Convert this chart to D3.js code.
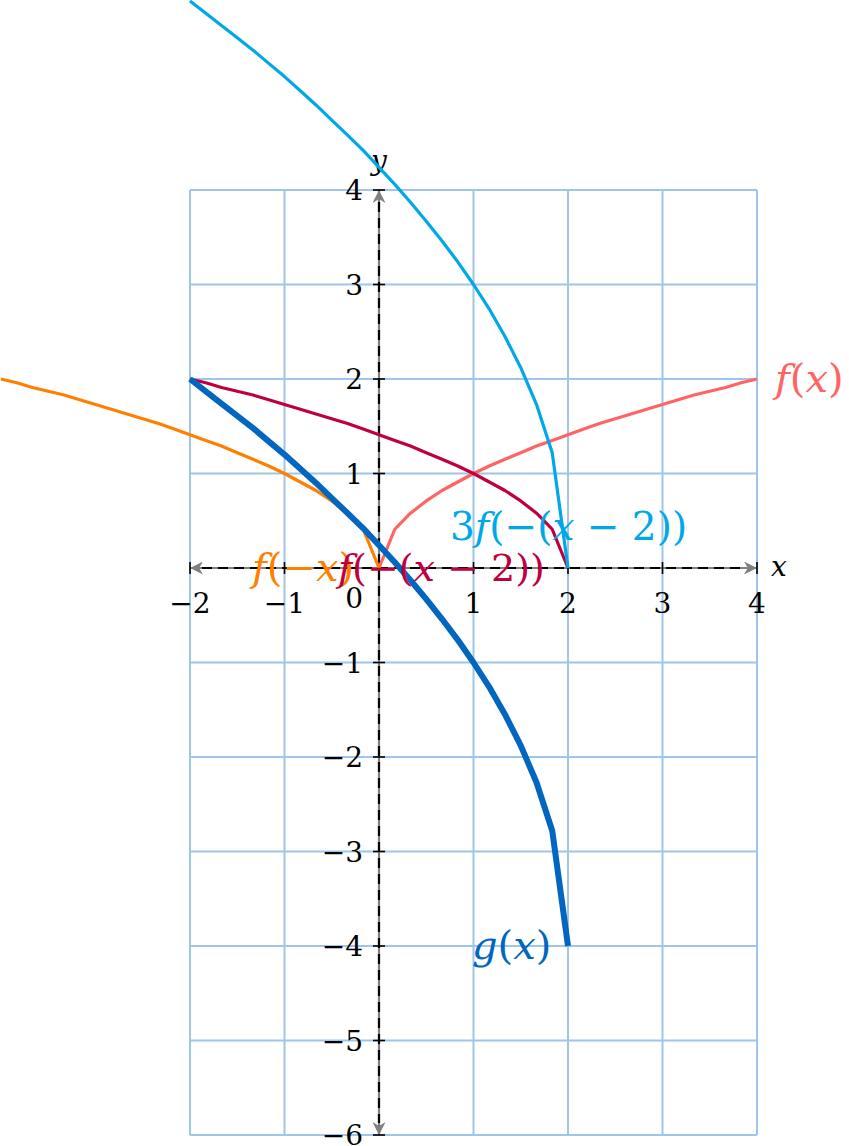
<!DOCTYPE html>
<html>
<head>
<meta charset="utf-8">
<script src="https://cdn.jsdelivr.net/npm/d3@7"></script>
<style>
  body { margin: 0; background: white; }
  svg text { font-family: "DejaVu Serif", "Liberation Serif", serif; }
</style>
</head>
<body>
<div id="chart"></div>
<script>
// sample positions (25 samples as in the plot)
const xsMid = [-2, -1.833, -1.667, -1.5, -1.333, -1.167, -1, -0.833, -0.667, -0.5, -0.333, -0.167,
  0, 0.167, 0.333, 0.5, 0.667, 0.833, 1, 1.167, 1.333, 1.5, 1.667, 1.833, 2];
const xsRight = [0, 0.167, 0.333, 0.5, 0.667, 0.833, 1, 1.167, 1.333, 1.5, 1.667, 1.833,
  2, 2.167, 2.333, 2.5, 2.667, 2.833, 3, 3.167, 3.333, 3.5, 3.667, 3.833, 4];
const xsLeft = [-4, -3.833, -3.667, -3.5, -3.333, -3.167, -3, -2.833, -2.667, -2.5, -2.333, -2.167,
  -2, -1.833, -1.667, -1.5, -1.333, -1.167, -1, -0.833, -0.667, -0.5, -0.333, -0.167, 0];

const fVals = [0, 0.41, 0.58, 0.71, 0.82, 0.91, 1.00, 1.08, 1.15, 1.22, 1.29, 1.35, 1.41,
  1.47, 1.53, 1.58, 1.63, 1.68, 1.73, 1.78, 1.83, 1.87, 1.91, 1.96, 2.00];
const fNegVals = [2.00, 1.96, 1.91, 1.87, 1.83, 1.78, 1.73, 1.68, 1.63, 1.58, 1.53, 1.47, 1.41,
  1.35, 1.29, 1.22, 1.15, 1.08, 1.00, 0.91, 0.82, 0.71, 0.58, 0.41, 0];
const fShiftVals = [2.00, 1.96, 1.91, 1.87, 1.83, 1.78, 1.73, 1.68, 1.63, 1.58, 1.53, 1.47, 1.41,
  1.35, 1.29, 1.22, 1.15, 1.08, 1.00, 0.91, 0.82, 0.71, 0.58, 0.41, 0];
const fStretchVals = [6.00, 5.87, 5.74, 5.61, 5.48, 5.34, 5.20, 5.05, 4.90, 4.74, 4.58, 4.42, 4.24,
  4.06, 3.87, 3.67, 3.46, 3.24, 3.00, 2.74, 2.45, 2.12, 1.73, 1.22, 0];
const gVals = [2.00, 1.87, 1.74, 1.61, 1.48, 1.34, 1.20, 1.05, 0.90, 0.74, 0.58, 0.42, 0.24,
  0.06, -0.13, -0.33, -0.54, -0.76, -1.00, -1.26, -1.55, -1.88, -2.27, -2.78, -4.00];

const xTicks = [-2, -1, 1, 2, 3, 4];
const yTicks = [-6, -5, -4, -3, -2, -1, 1, 2, 3, 4];

const width = 849, height = 1146;

const svg = d3.select("#chart").append("svg")
  .attr("width", width)
  .attr("height", height);

const x = d3.scaleLinear().domain([-2, 4]).range([190, 757]);
const y = d3.scaleLinear().domain([-6, 4]).range([1135, 190]);

// grid
const grid = svg.append("g").attr("stroke", "#9fc6ea").attr("stroke-width", 2);
grid.selectAll(".gx").data(d3.range(-2, 5)).enter().append("line")
  .attr("x1", d => x(d)).attr("x2", d => x(d))
  .attr("y1", y(4)).attr("y2", y(-6));
grid.selectAll(".gy").data(d3.range(-6, 5)).enter().append("line")
  .attr("x1", x(-2)).attr("x2", x(4))
  .attr("y1", d => y(d)).attr("y2", d => y(d));

// axes
svg.append("defs").append("marker")
  .attr("id", "arr")
  .attr("viewBox", "0 0 10 10")
  .attr("refX", 10).attr("refY", 5)
  .attr("markerWidth", 13).attr("markerHeight", 13)
  .attr("markerUnits", "userSpaceOnUse")
  .attr("orient", "auto-start-reverse")
  .append("path")
  .attr("d", "M0,0 L10,5 L0,10 L3,5 Z")
  .attr("fill", "#808080");

const axes = svg.append("g");
axes.append("line")
  .attr("x1", x(-2)).attr("x2", x(4)).attr("y1", y(0)).attr("y2", y(0))
  .attr("stroke", "#808080").attr("stroke-width", 2.2)
  .attr("marker-start", "url(#arr)").attr("marker-end", "url(#arr)");
axes.append("line")
  .attr("x1", x(0)).attr("x2", x(0)).attr("y1", y(4)).attr("y2", y(-6))
  .attr("stroke", "#808080").attr("stroke-width", 2.2)
  .attr("marker-start", "url(#arr)").attr("marker-end", "url(#arr)");
axes.append("line")
  .attr("x1", x(-2) + 12).attr("x2", x(4) - 12).attr("y1", y(0)).attr("y2", y(0))
  .attr("stroke", "black").attr("stroke-width", 2.2).attr("stroke-dasharray", "10,6");
axes.append("line")
  .attr("x1", x(0)).attr("x2", x(0)).attr("y1", y(4) + 12).attr("y2", y(-6) - 12)
  .attr("stroke", "black").attr("stroke-width", 2.2).attr("stroke-dasharray", "10,6");

// ticks
axes.selectAll(".tx").data(xTicks).enter().append("line")
  .attr("x1", d => x(d)).attr("x2", d => x(d))
  .attr("y1", y(0) - 6).attr("y2", y(0) + 6)
  .attr("stroke", "black").attr("stroke-width", 1.6);
axes.selectAll(".ty").data(yTicks).enter().append("line")
  .attr("x1", x(0) - 6).attr("x2", x(0) + 6)
  .attr("y1", d => y(d)).attr("y2", d => y(d))
  .attr("stroke", "black").attr("stroke-width", 1.6);

const fmt = d => d < 0 ? "\u2212" + Math.abs(d) : "" + d;

axes.selectAll(".lx").data(xTicks).enter().append("text")
  .attr("x", d => x(d)).attr("y", y(0) + 45)
  .attr("text-anchor", "middle")
  .attr("font-size", 28)
  .text(fmt);
axes.selectAll(".ly").data(yTicks).enter().append("text")
  .attr("x", x(0) - 16).attr("y", d => y(d) + 10)
  .attr("text-anchor", "end")
  .attr("font-size", 28)
  .text(fmt);
axes.append("text").attr("x", x(0) - 16).attr("y", y(0) + 40)
  .attr("text-anchor", "end").attr("font-size", 28).text("0");
axes.append("text").attr("font-style", "italic").attr("x", x(4) + 14).attr("y", y(0) + 8)
  .attr("font-size", 28).text("x");
axes.append("text").attr("font-style", "italic").attr("x", x(0)).attr("y", y(4) - 20)
  .attr("text-anchor", "middle").attr("font-size", 28).text("y");

// curves
const line = d3.line().x(d => x(d[0])).y(d => y(d[1]));
const series = [
  { xs: xsRight, ys: fVals, color: "#ff6464", w: 3.2 },
  { xs: xsLeft, ys: fNegVals, color: "#ff8000", w: 3.2 },
  { xs: xsMid, ys: fShiftVals, color: "#bf0040", w: 3.2 },
  { xs: xsMid, ys: fStretchVals, color: "#00a8e8", w: 3.2 },
  { xs: xsMid, ys: gVals, color: "#0066bf", w: 6 }
];
series.forEach(s => {
  svg.append("path")
    .datum(s.xs.map((v, i) => [v, s.ys[i]]))
    .attr("d", line)
    .attr("fill", "none")
    .attr("stroke", s.color)
    .attr("stroke-width", s.w)
    .attr("stroke-linejoin", "round");
});

// curve labels
function mathLabel(px, py, parts, color, size) {
  const t = svg.append("text").attr("x", px).attr("y", py)
    .attr("font-size", size).attr("fill", color);
  parts.forEach(p => {
    t.append("tspan").attr("font-style", p[1] ? "italic" : "normal").text(p[0]);
  });
}
mathLabel(775, y(2) + 13, [["f", 1], ["(", 0], ["x", 1], [")", 0]], "#ff6464", 40);
mathLabel(252, y(0) + 13, [["f", 1], ["(\u2212", 0], ["x", 1], [")", 0]], "#ff8000", 40);
mathLabel(338, y(0) + 13, [["f", 1], ["(\u2212(", 0], ["x", 1], [" \u2212 2))", 0]], "#bf0040", 38);
mathLabel(450, y(0) - 28, [["3", 0], ["f", 1], ["(\u2212(", 0], ["x", 1], [" \u2212 2))", 0]], "#00a8e8", 39);
mathLabel(472, y(-4) + 13, [["g", 1], ["(", 0], ["x", 1], [")", 0]], "#0066bf", 40);
</script>
</body>
</html>
